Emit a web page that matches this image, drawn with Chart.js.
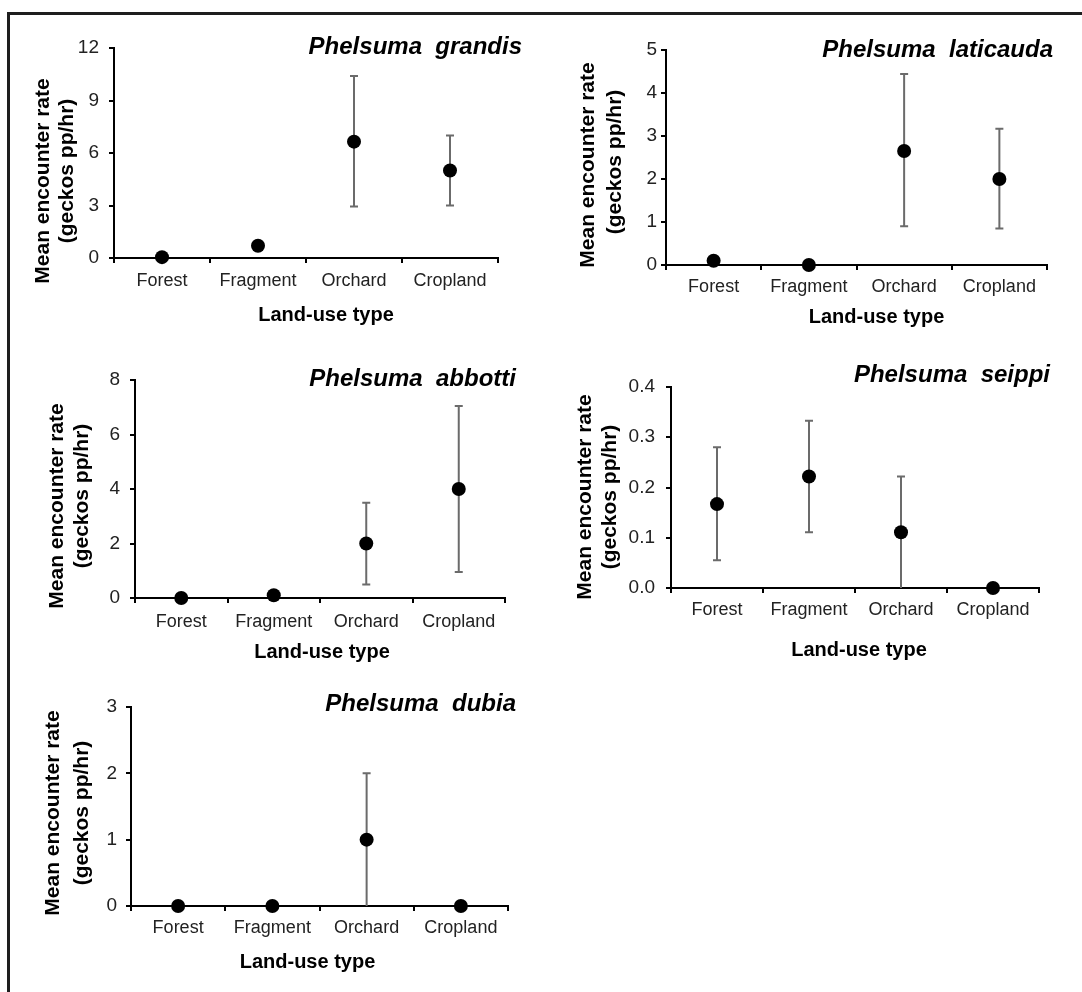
<!DOCTYPE html>
<html>
<head>
<meta charset="utf-8">
<script src="https://cdn.jsdelivr.net/npm/chart.js@4.4.1/dist/chart.umd.min.js"></script>
<style>
  html, body { margin: 0; padding: 0; background: #fff; overflow: hidden; }
  body { width: 1082px; height: 992px; position: relative; }
  .frame { position: absolute; left: 7px; top: 12px; width: 1100px; height: 1000px;
           border-top: 3px solid #1e1e1e; border-left: 3px solid #1e1e1e; }
  canvas { position: absolute; }
</style>
</head>
<body>
<div class="frame"></div>
<canvas id="c1"></canvas>
<canvas id="c2"></canvas>
<canvas id="c3"></canvas>
<canvas id="c4"></canvas>
<canvas id="c5"></canvas>
<script>
// data
const categories = ["Forest", "Fragment", "Orchard", "Cropland"];

const grandisMean = [0.05, 0.7, 6.65, 5.0];
const grandisLow  = [null, null, 2.95, 3.0];
const grandisHigh = [null, null, 10.4, 7.0];
const grandisTicks = [0, 3, 6, 9, 12];

const laticaudaMean = [0.1, 0, 2.65, 2.0];
const laticaudaLow  = [null, null, 0.9, 0.85];
const laticaudaHigh = [null, null, 4.44, 3.17];
const laticaudaTicks = [0, 1, 2, 3, 4, 5];

const abbottiMean = [0, 0.1, 2.0, 4.0];
const abbottiLow  = [null, null, 0.5, 0.95];
const abbottiHigh = [null, null, 3.5, 7.05];
const abbottiTicks = [0, 2, 4, 6, 8];

const seippiMean = [0.167, 0.222, 0.111, 0];
const seippiLow  = [0.055, 0.111, 0, null];
const seippiHigh = [0.28, 0.333, 0.222, null];
const seippiTicks = [0, 0.1, 0.2, 0.3, 0.4];
const seippiTickLabels = ["0.0", "0.1", "0.2", "0.3", "0.4"];

const dubiaMean = [0, 0, 1, 0];
const dubiaLow  = [null, null, 0, null];
const dubiaHigh = [null, null, 2, null];
const dubiaTicks = [0, 1, 2, 3];

const yTitle = ["Mean encounter rate", "(geckos pp/hr)"];
const xTitle = "Land-use type";

const FONT = '"Liberation Sans", Arial, sans-serif';
const Y_W = 110, X_H = 80, PAD_T = 30, PAD_R = 30;

// error bars drawn under the dots
const errorBars = {
  id: "errorBars",
  beforeDatasetsDraw(chart) {
    const { ctx, scales: { x, y } } = chart;
    const ds = chart.data.datasets[0];
    ctx.save();
    ctx.strokeStyle = "#6b6b6b";
    ctx.lineWidth = 2;
    ds.low.forEach((lo, i) => {
      const hi = ds.high[i];
      if (lo == null || hi == null) return;
      const px = x.getPixelForValue(i);
      const yl = y.getPixelForValue(lo);
      const yh = y.getPixelForValue(hi);
      ctx.beginPath();
      ctx.moveTo(px, yl);
      ctx.lineTo(px, yh);
      ctx.moveTo(px - 4, yh);
      ctx.lineTo(px + 4, yh);
      if (lo > y.min) {
        ctx.moveTo(px - 4, yl);
        ctx.lineTo(px + 4, yl);
      }
      ctx.stroke();
    });
    ctx.restore();
  }
};

// species title and axis titles
const panelText = {
  id: "panelText",
  afterDraw(chart, args, o) {
    const { ctx, chartArea: a } = chart;
    ctx.save();
    ctx.fillStyle = "#000";
    ctx.textBaseline = "middle";
    ctx.textAlign = "right";
    ctx.font = "italic bold 24px " + FONT;
    ctx.fillText(o.title, a.right + o.titleDx, a.top + o.titleDy);

    ctx.textAlign = "center";
    ctx.font = "bold 20px " + FONT;
    ctx.fillText(xTitle, (a.left + a.right) / 2 + o.xDx, a.bottom + o.xDy);

    ctx.font = "bold 21px " + FONT;
    yTitle.forEach((line, k) => {
      ctx.save();
      ctx.translate(a.left + o.yDx[k], a.bottom + o.yDy[k]);
      ctx.rotate(-Math.PI / 2);
      ctx.fillText(line, 0, 0);
      ctx.restore();
    });
    ctx.restore();
  }
};

function makePanel(id, area, mean, low, high, ticks, tickLabels, t) {
  const el = document.getElementById(id);
  const left = area[0] - Y_W, top = area[1] - PAD_T;
  const w = area[2] + PAD_R - left, h = area[3] + X_H - top;
  el.width = w; el.height = h;
  el.style.left = left + "px";
  el.style.top = top + "px";

  new Chart(el, {
    type: "line",
    data: {
      labels: categories,
      datasets: [{
        data: mean,
        low: low,
        high: high,
        showLine: false,
        pointRadius: 7,
        pointHoverRadius: 7,
        pointBackgroundColor: "#000",
        pointBorderColor: "#000",
        pointBorderWidth: 0,
        clip: false
      }]
    },
    options: {
      responsive: false,
      animation: false,
      events: [],
      layout: { padding: { left: 0, top: PAD_T, right: PAD_R, bottom: 0 } },
      plugins: {
        legend: { display: false },
        tooltip: { enabled: false },
        panelText: t
      },
      scales: {
        x: {
          offset: true,
          grid: { offset: true, drawOnChartArea: false, drawTicks: true, tickLength: 5, color: "#000", lineWidth: 2 },
          border: { display: true, color: "#000", width: 2 },
          ticks: { color: "#222", font: { family: FONT, size: 18 }, padding: t.xPad, maxRotation: 0 },
          afterFit: s => { s.height = X_H; }
        },
        y: {
          min: ticks[0],
          max: ticks[ticks.length - 1],
          afterBuildTicks: s => { s.ticks = ticks.map(v => ({ value: v })); },
          grid: { drawOnChartArea: false, drawTicks: true, tickLength: 5, color: "#000", lineWidth: 2 },
          border: { display: true, color: "#000", width: 2 },
          ticks: {
            color: "#222",
            font: { family: FONT, size: 19 },
            padding: t.yPad,
            callback: (v, i) => tickLabels ? tickLabels[i] : String(v)
          },
          afterFit: s => { s.width = Y_W; }
        }
      }
    },
    plugins: [errorBars, panelText]
  });
}

makePanel("c1", [114, 48, 498, 258], grandisMean, grandisLow, grandisHigh, grandisTicks, null,
  { title: "Phelsuma  grandis", titleDx: 24, titleDy: -1, xDx: 20, xDy: 57, yDx: [-71, -47], yDy: [-77, -87], yPad: 10, xPad: 7 });
makePanel("c2", [666, 50, 1047, 265], laticaudaMean, laticaudaLow, laticaudaHigh, laticaudaTicks, null,
  { title: "Phelsuma  laticauda", titleDx: 6, titleDy: 0, xDx: 20, xDy: 52, yDx: [-78, -51], yDy: [-100, -103], yPad: 4, xPad: 6 });
makePanel("c3", [135, 380, 505, 598], abbottiMean, abbottiLow, abbottiHigh, abbottiTicks, null,
  { title: "Phelsuma  abbotti", titleDx: 11, titleDy: -1, xDx: 2, xDy: 54, yDx: [-78, -53], yDy: [-92, -102], yPad: 10, xPad: 8 });
makePanel("c4", [671, 387, 1039, 588], seippiMean, seippiLow, seippiHigh, seippiTicks, seippiTickLabels,
  { title: "Phelsuma  seippi", titleDx: 11, titleDy: -12, xDx: 4, xDy: 62, yDx: [-86, -61], yDy: [-91, -91], yPad: 11, xPad: 6 });
makePanel("c5", [131, 707, 508, 906], dubiaMean, dubiaLow, dubiaHigh, dubiaTicks, null,
  { title: "Phelsuma  dubia", titleDx: 8, titleDy: -3, xDx: -12, xDy: 56, yDx: [-78, -49], yDy: [-93, -93], yPad: 9, xPad: 6 });
</script>
</body>
</html>
